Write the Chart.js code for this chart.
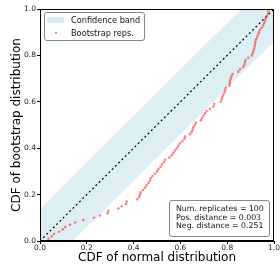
<!DOCTYPE html>
<html>
<head>
<meta charset="utf-8">
<script src="https://cdn.jsdelivr.net/npm/chart.js@4"></script>
<style>
  body { margin: 0; background: #fff; font-family: "DejaVu Sans", sans-serif; }
  #wrap { position: relative; width: 280px; height: 271px; }
  .box { position: absolute; border: 1px solid #888; border-radius: 3px; background: rgba(255,255,255,0.85); box-sizing: border-box; color: #111; }
  #legend { left: 44px; top: 12px; width: 101px; height: 29px; font-size: 8.2px; }
  #legend .row { position: absolute; left: 26px; white-space: nowrap; line-height: 10px; }
  #legend .patch { position: absolute; left: 2px; top: 4px; width: 17px; height: 6px; background: rgba(173,216,230,0.45); }
  #legend .dot { position: absolute; left: 10px; top: 19px; width: 2px; height: 2px; background: rgba(255,40,40,0.6); }
  #stats { left: 169px; top: 200px; width: 101px; height: 37px; font-size: 7.8px; line-height: 8.7px; padding: 4px 0 0 6px; white-space: nowrap; }
</style>
</head>
<body>
<div id="wrap">
  <canvas id="cdfChart"></canvas>
  <div id="legend" class="box">
    <span class="patch"></span>
    <span class="row" style="top:2px">Confidence band</span>
    <span class="dot"></span>
    <span class="row" style="top:15px">Bootstrap reps.</span>
  </div>
  <div id="stats" class="box">
    Num. replicates = 100<br>
    Pos. distance = 0.003<br>
    Neg. distance = 0.251
  </div>
</div>
<script>
// confidence band polygon (lower edge, then upper edge back)
const bandX = [0, 0.14, 1, 1, 0.86, 0, 0];
const bandY = [0, 0, 0.86, 1, 1, 0.14, 0];

// reference diagonal
const diagX = [0, 1];
const diagY = [0, 1];

// bootstrap replicates
const bootX = [
  0.036, 0.05, 0.06, 0.081, 0.097, 0.108, 0.128, 0.15, 0.185, 0.231,
  0.256, 0.289, 0.292, 0.335, 0.349, 0.368, 0.37, 0.415, 0.424, 0.427,
  0.43, 0.44, 0.449, 0.456, 0.463, 0.47, 0.473, 0.48, 0.491, 0.5,
  0.506, 0.515, 0.522, 0.53, 0.535, 0.553, 0.563, 0.57, 0.577, 0.585,
  0.591, 0.598, 0.608, 0.617, 0.62, 0.641, 0.648, 0.652, 0.655, 0.662,
  0.667, 0.688, 0.692, 0.698, 0.705, 0.712, 0.726, 0.741, 0.744, 0.772,
  0.776, 0.779, 0.783, 0.789, 0.791, 0.794, 0.809, 0.811, 0.812, 0.815,
  0.818, 0.823, 0.847, 0.855, 0.869, 0.873, 0.876, 0.879, 0.89, 0.905,
  0.91, 0.912, 0.915, 0.918, 0.919, 0.921, 0.924, 0.929, 0.932, 0.936,
  0.94, 0.948, 0.954, 0.958, 0.962, 0.965, 0.969, 0.974, 0.977, 0.98
];
const bootY = [
  0.01, 0.02, 0.03, 0.04, 0.05, 0.06, 0.07, 0.08, 0.09, 0.10,
  0.11, 0.12, 0.13, 0.14, 0.15, 0.16, 0.17, 0.18, 0.19, 0.20,
  0.21, 0.22, 0.23, 0.24, 0.25, 0.26, 0.27, 0.28, 0.29, 0.30,
  0.31, 0.32, 0.33, 0.34, 0.35, 0.36, 0.37, 0.38, 0.39, 0.40,
  0.41, 0.42, 0.43, 0.44, 0.45, 0.46, 0.47, 0.48, 0.49, 0.50,
  0.51, 0.52, 0.53, 0.54, 0.55, 0.56, 0.57, 0.58, 0.59, 0.60,
  0.61, 0.62, 0.63, 0.64, 0.65, 0.66, 0.67, 0.68, 0.69, 0.70,
  0.71, 0.72, 0.73, 0.74, 0.75, 0.76, 0.77, 0.78, 0.79, 0.80,
  0.81, 0.82, 0.83, 0.84, 0.85, 0.86, 0.87, 0.88, 0.89, 0.90,
  0.91, 0.92, 0.93, 0.94, 0.95, 0.96, 0.97, 0.98, 0.99, 1.00
];

const tickVals = [0, 0.2, 0.4, 0.6, 0.8, 1.0];

const toPts = (xs, ys) => xs.map((x, i) => ({ x: x, y: ys[i] }));

// black frame on all four sides
const framePlugin = {
  id: "frame",
  afterDatasetsDraw(chart) {
    const { ctx, chartArea: a } = chart;
    ctx.save();
    ctx.strokeStyle = "#000";
    ctx.lineWidth = 1;
    ctx.strokeRect(a.left + 0.5, a.top + 0.5, a.right - a.left - 1, a.bottom - a.top - 1);
    ctx.restore();
  },
};

const axisBase = {
  type: "linear",
  min: 0,
  max: 1,
  afterBuildTicks(scale) {
    scale.ticks = tickVals.map((v) => ({ value: v }));
  },
  grid: { drawOnChartArea: false, drawTicks: true, tickLength: 3, color: "#000" },
  border: { display: true, color: "#000", width: 1 },
  ticks: {
    color: "#222",
    font: { family: "DejaVu Sans", size: 7.5 },
    callback: (v) => v.toFixed(1),
    maxRotation: 0,
  },
};

new Chart(document.getElementById("cdfChart"), {
  type: "scatter",
  data: {
    datasets: [
      {
        data: toPts(bandX, bandY),
        showLine: true,
        fill: "shape",
        backgroundColor: "rgba(173,216,230,0.42)",
        borderWidth: 0,
        pointRadius: 0,
        order: 3,
      },
      {
        data: toPts(diagX, diagY),
        showLine: true,
        borderColor: "#000",
        borderWidth: 1.2,
        borderDash: [2, 2.6],
        pointRadius: 0,
        order: 2,
      },
      {
        data: toPts(bootX, bootY),
        backgroundColor: "rgba(255,40,40,0.6)",
        borderWidth: 0,
        pointRadius: 1.3,
        order: 1,
      },
    ],
  },
  options: {
    responsive: true,
    maintainAspectRatio: false,
    animation: false,
    layout: { padding: { top: 9, right: 6, left: 0, bottom: 0 } },
    plugins: { legend: { display: false }, tooltip: { enabled: false } },
    scales: {
      x: {
        ...axisBase,
        ticks: { ...axisBase.ticks, padding: 0 },
        title: {
          display: true,
          text: "CDF of normal distribution",
          color: "#000",
          font: { family: "DejaVu Sans", size: 12 },
          padding: { top: 0, bottom: 6 },
        },
        afterFit(scale) { scale.height = 30; },
      },
      y: {
        ...axisBase,
        ticks: { ...axisBase.ticks, padding: 1 },
        title: {
          display: true,
          text: "CDF of bootstrap distribution",
          color: "#000",
          font: { family: "DejaVu Sans", size: 12 },
          padding: { top: 10, bottom: 0 },
        },
        afterFit(scale) { scale.width = 40; },
      },
    },
  },
  plugins: [framePlugin],
});
</script>
</body>
</html>
